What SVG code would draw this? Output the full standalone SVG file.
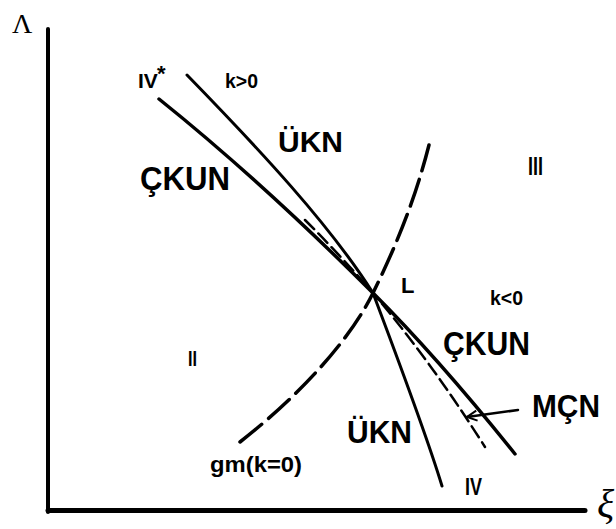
<svg xmlns="http://www.w3.org/2000/svg" width="616" height="529" viewBox="0 0 616 529">
<defs>
<style>
.t{font-family:"Liberation Sans",Arial,sans-serif;font-weight:bold;fill:#000}
.ln{fill:none;stroke:#000;stroke-linecap:round;stroke-linejoin:round}
</style>
<marker id="ah" markerWidth="14" markerHeight="14" refX="12" refY="7" orient="auto" markerUnits="userSpaceOnUse">
<path d="M2,2 L12,7 L2,12" fill="none" stroke="#000" stroke-width="2"/>
</marker>
</defs>
<rect width="616" height="529" fill="#fff"/>
<g id="axes">
<line class="ln" x1="48" y1="29" x2="48" y2="512" stroke-width="4"/>
<line class="ln" x1="48" y1="510.5" x2="585" y2="510.5" stroke-width="5"/>
<text x="12" y="33" font-family="'Liberation Serif','Times New Roman',serif" font-size="28">Λ</text>
<text x="597" y="517" font-family="'Liberation Serif','Times New Roman',serif" font-style="italic" font-size="40">ξ</text>
</g>
<g id="connectors">
<path id="ckun" class="ln" stroke-width="3.5" d="M159,99 Q260,180 373,293 Q439,359 515,454"/>
<path id="ukn" class="ln" stroke-width="3" d="M187,75 C260,150 330,225 373,293 C385,325 425,430 442,486"/>
<path id="mcn" class="ln" stroke-width="2.5" stroke-dasharray="13 6" stroke-linecap="butt" d="M305,220 Q340,255 373,293 Q430,360 485,447"/>
<path id="gm" class="ln" stroke-width="3.5" stroke-dasharray="28 9" stroke-linecap="butt" d="M240,442 C300,395 350,340 373,293 S415,200 429,145"/>
<path id="mcn-arrow" class="ln" stroke-width="2.5" d="M518,410 L467,417" marker-end="url(#ah)"/>
</g>
<g id="label-IVstar"><text class="t" x="138" y="88" font-size="21">IV</text><text class="t" x="157" y="81" font-size="22">*</text></g>
<g id="label-k-pos"><text class="t" x="225" y="88" font-size="21" textLength="33" lengthAdjust="spacingAndGlyphs">k&gt;0</text></g>
<g id="label-UKN-upper"><text class="t" x="278" y="152" font-size="30" textLength="65" lengthAdjust="spacingAndGlyphs">ÜKN</text></g>
<g id="label-CKUN-upper"><text class="t" x="140" y="190" font-size="33" textLength="90" lengthAdjust="spacingAndGlyphs">ÇKUN</text></g>
<g id="label-III"><text class="t" x="528" y="175" font-size="26" textLength="15" lengthAdjust="spacingAndGlyphs">III</text></g>
<g id="label-L"><text class="t" x="401" y="293" font-size="22">L</text></g>
<g id="label-k-neg"><text class="t" x="490" y="305" font-size="21" textLength="33" lengthAdjust="spacingAndGlyphs">k&lt;0</text></g>
<g id="label-CKUN-lower"><text class="t" x="443" y="355" font-size="34" textLength="87" lengthAdjust="spacingAndGlyphs">ÇKUN</text></g>
<g id="label-II"><text class="t" x="188" y="366" font-size="22" textLength="9" lengthAdjust="spacingAndGlyphs">II</text></g>
<g id="label-MCN"><text class="t" x="532" y="417" font-size="32" textLength="68" lengthAdjust="spacingAndGlyphs">MÇN</text></g>
<g id="label-UKN-lower"><text class="t" x="347" y="443" font-size="32" textLength="65" lengthAdjust="spacingAndGlyphs">ÜKN</text></g>
<g id="label-gm"><text class="t" x="210" y="472" font-size="22" textLength="92" lengthAdjust="spacingAndGlyphs">gm(k=0)</text></g>
<g id="label-IV"><text class="t" x="465" y="495" font-size="23" textLength="17" lengthAdjust="spacingAndGlyphs">IV</text></g>
</svg>
